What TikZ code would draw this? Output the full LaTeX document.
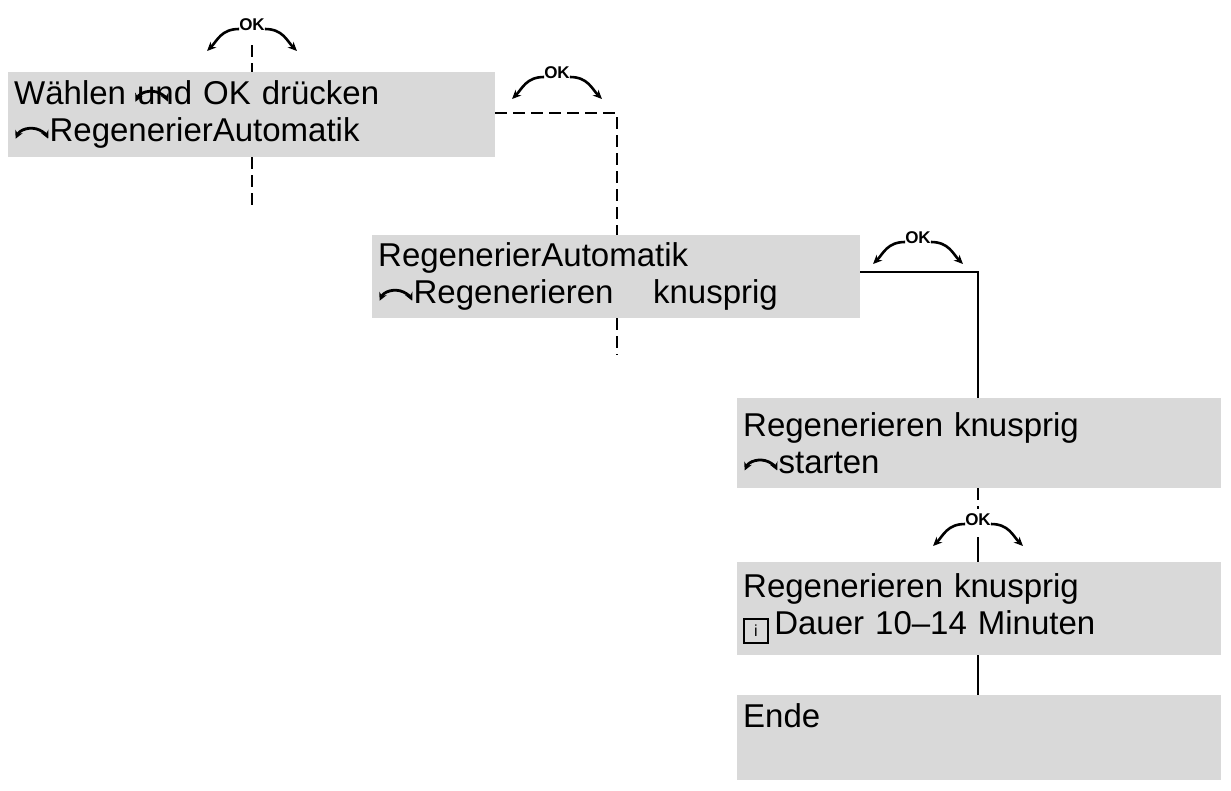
\documentclass[tikz,border=0pt]{standalone}
\usepackage{fontspec}
\setmainfont{Liberation Sans}
\usetikzlibrary{arrows.meta,calc}
\definecolor{boxgray}{HTML}{D9D9D9}
\newcommand{\knobsym}{\tikz[baseline=0pt]{\draw[line width=2.8pt,{Stealth[length=8pt,width=8pt]}-{Stealth[length=8pt,width=8pt]}] (0,3pt) arc[start angle=155,end angle=25,radius=18pt];}}
\newcommand{\infosym}{\tikz[baseline=-5pt]{\node[draw,line width=1.6pt,inner sep=1pt,minimum size=24pt,font=\fontsize{16}{16}\selectfont] at (0,11pt) {i};}\,}
\begin{document}
\begin{tikzpicture}[x=1pt,y=-1pt,
  box/.style={fill=boxgray,anchor=north west,minimum width=#1,minimum height=85pt,text width=#1-12pt,inner xsep=6pt,inner ysep=6pt,align=left,font=\fontsize{33}{37}\selectfont},
  okl/.style={font=\bfseries\fontsize{17}{17}\selectfont,inner sep=1pt},
  dsh/.style={line width=1.6pt,dash pattern=on 12pt off 6pt},
  sol/.style={line width=2.4pt}]
\useasboundingbox (0,0) rectangle (1231,790);
\newcommand{\okmark}[2]{%
  \node[okl] (#1) at #2 {OK};
  \draw[line width=2.6pt,-{Stealth[length=9pt,width=8pt]}] ($(#1.west)+(1,4)$) .. controls +(-18,0) and +(10,-10) .. +(-32,22);
  \draw[line width=2.6pt,-{Stealth[length=9pt,width=8pt]}] ($(#1.east)+(-1,4)$) .. controls +(18,0) and +(-10,-10) .. +(32,22);}
\node[box=487pt] (b1) at (8,72) {Wählen \rlap{\kern-3pt\knobsym}und OK drücken\\\knobsym RegenerierAutomatik};
\node[box=488pt,minimum height=83pt] (b2) at (372,235) {RegenerierAutomatik\\\knobsym Regenerieren\hspace{1.2em}knusprig};
\node[box=484pt,minimum height=90pt] (b3) at (737,398) {Regenerieren knusprig\\\knobsym starten};
\node[box=484pt,minimum height=93pt] (b4) at (737,562) {Regenerieren knusprig\\\infosym Dauer 10–14 Minuten};
\node[box=484pt,minimum height=85pt] (b5) at (737,695) {Ende\\[-4pt]\strut};
\okmark{ok1}{(252,25)}
\okmark{ok2}{(557,73)}
\okmark{ok3}{(918,238)}
\okmark{ok4}{(978,520)}
\coordinate (t1) at (252,45);
\coordinate (e1) at (252,205);
\coordinate (c2) at (617,113);
\coordinate (e2) at (617,355);
\coordinate (c3) at (978,272);
\coordinate (m4) at (978,537);
\draw[dsh] (t1) -- (b1.north -| t1);
\draw[dsh] (b1.south -| t1) -- (e1);
\draw[dsh] (b1.east |- c2) -- (c2) -- (b2.north -| c2);
\draw[dsh] (b2.south -| c2) -- (e2);
\draw[sol] (b2.east |- c3) -- (c3) -- (b3.north -| c3);
\draw[dsh] (b3.south -| c3) -- ($(ok4.north)+(0,-4)$);
\draw[sol] (m4) -- (b4.north -| m4);
\draw[sol] (b4.south -| m4) -- (b5.north -| m4);
\end{tikzpicture}
\end{document}
